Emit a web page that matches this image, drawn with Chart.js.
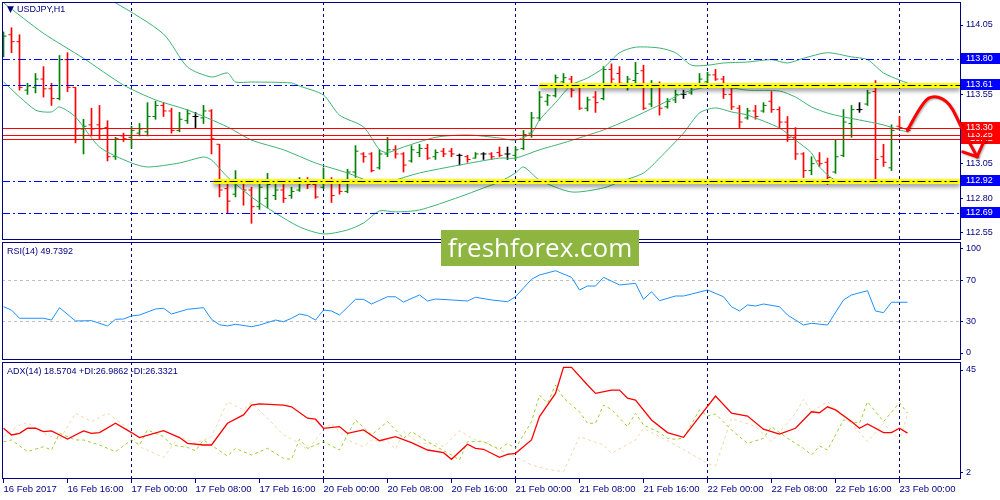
<!DOCTYPE html>
<html>
<head>
<meta charset="utf-8">
<title>USDJPY,H1</title>
<script src="https://cdn.jsdelivr.net/npm/chart.js@4.4.1/dist/chart.umd.min.js"></script>
<style>
  html, body { margin: 0; padding: 0; background: #fff; }
  body { width: 1000px; height: 500px; position: relative; overflow: hidden; font-family: "Liberation Sans", Arial, sans-serif; }
  .pane { position: absolute; left: 0; width: 1000px; }
  .title { position: absolute; left: 7px; font-size: 9px; line-height: 11px; color: #000080; white-space: nowrap; }
  .title .tri { font-family: "DejaVu Sans"; font-size: 9px; margin-right: 3px; }
  #wm { position: absolute; left: 441px; top: 230px; width: 198px; height: 36px; background: #8db540;
        color: #fff; font: 26px "Open Sans", sans-serif; text-align: center; line-height: 35px; }
</style>
</head>
<body>
<div class="pane" style="top:0;height:241px"><canvas id="priceChart"></canvas></div>
<div class="pane" style="top:241px;height:120px"><canvas id="rsiChart"></canvas></div>
<div class="pane" style="top:361px;height:139px"><canvas id="adxChart"></canvas></div>
<div class="title" style="top:4px"><span class="tri">▼</span>USDJPY,H1</div>
<div class="title" style="top:246px">RSI(14) 49.7392</div>
<div class="title" style="top:366px">ADX(14) 18.5704 +DI:26.9862 -DI:26.3321</div>
<div id="wm">freshforex.com</div>

<script>
// x axis: one entry every 8 hourly bars, starting at bar 0 (16 Feb 08:00)
const xLabels = ["16 Feb 2017", "16 Feb 16:00", "17 Feb 00:00", "17 Feb 08:00", "17 Feb 16:00",
  "20 Feb 00:00", "20 Feb 08:00", "20 Feb 16:00", "21 Feb 00:00", "21 Feb 08:00", "21 Feb 16:00",
  "22 Feb 00:00", "22 Feb 08:00", "22 Feb 16:00", "23 Feb 00:00"];
const labelStep = 8;
const dayStarts = [16, 40, 64, 88, 112];

// USDJPY H1 bars
const open = [113.84,113.98,113.93,113.58,113.60,113.66,113.59,113.52,113.80,113.60,
  113.30,113.33,113.33,113.31,113.10,113.25,113.24,113.27,113.28,113.39,
  113.47,113.43,113.29,113.36,113.39,113.38,113.43,113.19,112.87,112.83,
  112.91,112.86,112.74,112.80,112.82,112.86,112.82,112.86,112.93,112.90,
  112.88,112.92,112.91,112.85,112.99,113.12,113.12,113.02,113.12,113.15,
  113.12,113.07,113.13,113.16,113.10,113.14,113.14,113.11,113.10,113.09,
  113.12,113.12,113.13,113.12,113.11,113.16,113.27,113.38,113.50,113.54,
  113.64,113.66,113.60,113.45,113.53,113.52,113.73,113.70,113.61,113.65,
  113.72,113.48,113.60,113.46,113.51,113.55,113.56,113.61,113.64,113.69,
  113.66,113.55,113.45,113.38,113.43,113.43,113.50,113.44,113.35,113.24,
  113.12,113.00,113.07,113.06,112.99,113.11,113.34,113.44,113.48,113.57,
  113.10,113.02,113.32,113.30];
const high = [114.00,114.03,113.98,113.63,113.70,113.75,113.63,113.83,113.85,113.60,
  113.37,113.45,113.47,113.36,113.24,113.27,113.32,113.34,113.49,113.50,
  113.49,113.45,113.42,113.44,113.42,113.47,113.44,113.19,112.92,113.00,
  112.93,112.88,112.93,112.98,112.93,112.90,112.88,112.95,112.95,112.91,
  113.02,112.95,112.93,113.01,113.18,113.13,113.13,113.15,113.24,113.18,
  113.13,113.18,113.19,113.19,113.15,113.16,113.16,113.12,113.11,113.13,
  113.13,113.13,113.17,113.17,113.17,113.29,113.42,113.57,113.55,113.69,
  113.70,113.68,113.62,113.53,113.57,113.75,113.77,113.75,113.68,113.78,
  113.76,113.65,113.64,113.52,113.58,113.58,113.62,113.70,113.71,113.73,
  113.68,113.60,113.47,113.45,113.47,113.49,113.57,113.46,113.39,113.31,
  113.13,113.10,113.13,113.09,113.22,113.44,113.47,113.49,113.58,113.65,
  113.19,113.33,113.39,113.31];
const low = [113.82,113.85,113.58,113.55,113.56,113.53,113.47,113.51,113.57,113.20,
  113.12,113.25,113.23,113.07,113.08,113.21,113.16,113.25,113.25,113.37,
  113.39,113.27,113.28,113.34,113.31,113.34,113.12,112.81,112.69,112.81,
  112.75,112.62,112.72,112.73,112.79,112.77,112.80,112.85,112.87,112.80,
  112.87,112.77,112.83,112.84,112.95,113.06,112.99,113.01,113.10,113.09,
  112.99,113.06,113.10,113.08,113.08,113.10,113.10,113.04,113.06,113.09,
  113.08,113.08,113.10,113.08,113.08,113.15,113.24,113.36,113.47,113.53,
  113.62,113.53,113.44,113.43,113.42,113.51,113.62,113.62,113.58,113.63,
  113.44,113.46,113.40,113.45,113.49,113.52,113.55,113.60,113.62,113.65,
  113.52,113.44,113.31,113.37,113.37,113.42,113.42,113.31,113.21,113.08,
  112.95,112.97,113.03,112.90,112.98,113.10,113.24,113.42,113.47,112.93,
  113.03,113.00,113.31,113.28];
const close = [113.97,113.93,113.60,113.61,113.66,113.59,113.52,113.80,113.60,113.30,
  113.32,113.30,113.30,113.10,113.23,113.23,113.29,113.30,113.39,113.47,
  113.43,113.29,113.37,113.41,113.39,113.43,113.23,112.86,112.78,112.92,
  112.86,112.74,112.88,112.90,112.86,112.80,112.85,112.93,112.90,112.81,
  112.92,112.82,112.85,112.99,113.14,113.10,113.00,113.12,113.15,113.12,
  113.04,113.15,113.16,113.09,113.13,113.12,113.12,113.11,113.08,113.12,
  113.12,113.10,113.11,113.12,113.15,113.26,113.38,113.53,113.54,113.67,
  113.67,113.58,113.45,113.51,113.49,113.73,113.66,113.63,113.66,113.70,
  113.45,113.60,113.45,113.50,113.55,113.55,113.60,113.66,113.69,113.66,
  113.55,113.46,113.35,113.43,113.39,113.47,113.44,113.35,113.24,113.12,
  113.00,113.05,113.05,112.95,113.10,113.35,113.44,113.44,113.56,113.08,
  113.06,113.29,113.31,113.29];

// Bollinger bands, read at their bends (bar index -> price)
const bbUpperIdx = [0,7,14,20,23,26,28,29,31,36,37,40,42,45,47,48,50,54,58,62,64,66,67,69,71,73,75,77,79,82,84,86,88,90,93,96,98,100,103,106,108,110,112,113];
const bbUpper = [114.60,114.42,114.21,113.985,113.747,113.675,113.704,113.639,113.639,113.632,113.61,113.545,113.40,113.315,113.15,113.13,113.17,113.24,113.257,113.235,113.22,113.27,113.365,113.49,113.617,113.668,113.74,113.85,113.89,113.884,113.85,113.76,113.76,113.776,113.783,113.80,113.776,113.81,113.85,113.82,113.80,113.704,113.653,113.632];
const bbMiddleIdx = [0,5,10,15,19,23,28,31,35,39,43,46,48,52,57,62,64,67,70,75,78,82,85,88,91,93,97,99,101,103,105,107,110,112,113];
const bbMiddle = [114.21,113.99,113.81,113.617,113.51,113.437,113.315,113.22,113.15,113.055,112.983,112.918,112.918,112.983,113.04,113.09,113.09,113.15,113.20,113.293,113.365,113.473,113.56,113.603,113.596,113.58,113.574,113.53,113.459,113.415,113.387,113.365,113.329,113.293,113.279];
const bbLowerIdx = [0,4,6,7,9,12,16,18,22,25,26,28,31,33,37,40,43,45,47,49,52,57,60,62,64,65,67,71,75,77,80,82,85,87,89,91,93,97,99,101,102,104,107,109,112,113];
const bbLower = [113.639,113.437,113.423,113.459,113.387,113.17,113.055,113.026,113.055,113.098,113.077,112.954,112.81,112.73,112.594,112.543,112.572,112.622,112.709,112.702,112.716,112.81,112.875,112.918,112.983,113.026,112.932,112.846,112.875,112.918,112.983,113.09,113.27,113.416,113.452,113.423,113.40,113.307,113.22,113.127,113.026,112.932,112.932,112.918,112.918,112.918];

// drawn levels
const blueLevels = [113.80, 113.61, 112.92, 112.69];
const yellowLevels = [113.61, 112.92];
const yellowFrom = [67, 26.25];
const redLevels = [113.22, 113.25, 113.30];
const priceTicks = [112.55, 112.80, 113.05, 113.30, 113.55, 113.80, 114.05];

// forecast arrow (bar index, price)
const arrowIdx = [113, 114.9, 116.4, 118.3, 119.8, 121.7];
const arrowPrice = [113.29, 113.50, 113.545, 113.49, 113.30, 113.10];
const arrowHeadIdx = [119.9, 122.7];
const arrowHeadPrice = [113.135, 113.23];

// RSI(14)
const rsiIdx = [0,1,2,5,6,7,9,11,13,14,15,16,17,19,20,21,23,25,26,27,28,29,31,32,34,35,36,37,38,39,40,41,42,44,45,46,48,49,50,52,53,54,56,58,59,61,63,64,66,67,69,71,72,73,74,75,77,79,80,81,82,84,85,86,88,90,91,92,93,94,95,97,98,100,101,103,105,106,108,109,110,111,112,113];
const rsiVal = [44.5,41.3,33.4,33.4,31.7,43.6,30.8,31.1,26.0,32.4,32.7,35.6,36.5,42.3,43.0,37.5,42.0,43.6,32.4,27.2,26.0,27.6,25.3,26.9,31.7,30.1,33.4,37.5,36.0,31.7,41.3,40.4,36.5,51.6,51.6,47.1,54.1,54.1,49.0,55.8,50.0,51.9,51.0,50.0,53.6,51.0,49.3,54.1,70.9,75.0,79.1,72.8,60.6,64.4,64.4,72.8,65.4,67.0,51.6,58.9,50.3,54.8,54.8,56.7,60.6,54.1,44.5,40.4,46.2,45.2,47.1,44.5,36.5,26.9,28.6,26.9,51.0,55.8,59.9,40.4,38.8,48.8,48.8,48.8];
const rsiTicks = [0, 30, 70, 100];
const rsiLevels = [30, 70];

// ADX(14) with +DI / -DI
const adxIdx = [0,1,2,3,4,5,6,8,10,11,12,14,16,17,20,22,23,25,26,28,30,31,32,35,36,38,39,40,42,43,45,47,49,51,53,55,56,58,59,60,62,63,64,66,67,69,70,71,73,74,76,77,78,79,81,83,85,87,89,91,93,95,97,99,101,102,103,104,106,107,108,110,111,112,113];
const adxVal = [20.6,17.8,18.5,20.6,20.6,19.2,19.5,16.1,19.5,18.5,18.8,22.7,18.8,16.7,19.6,16.7,14.3,13.6,13.6,22.7,26.2,30.3,30.8,30.3,29.6,24.8,24.4,20.6,21.3,18.5,19.9,15.4,17.1,14.6,11.5,10.4,7.6,13.9,12.2,11.8,8.4,9.7,10.1,15.7,25.5,35.2,46.1,46.1,38.7,35.2,36.6,36.6,33.2,32.4,24.1,18.8,16.8,25.5,34.1,26.9,25.7,20.2,18.2,20.6,27.5,27.1,29.6,28.3,23.4,20.6,22.4,18.8,18.8,20.6,18.57];
const plusDiIdx = [0,1,3,5,6,7,9,10,12,14,16,17,18,20,21,23,24,25,28,29,31,33,35,36,37,38,40,42,44,46,48,50,51,53,56,57,58,60,62,63,64,66,67,68,69,70,72,73,74,75,76,78,79,80,82,83,84,85,87,88,89,91,93,95,96,98,100,101,102,103,105,107,108,110,112,113];
const plusDi = [15.0,15.7,10.8,12.9,11.5,18.5,15.7,15.7,13.6,10.8,15.7,13.6,19.9,17.1,13.6,12.6,11.2,15.7,9.0,12.2,9.4,12.2,8.0,7.6,16.0,12.2,15.0,11.5,24.1,17.8,23.4,16.4,19.2,15.0,9.4,7.3,15.0,15.0,11.8,14.3,12.2,23.4,34.5,31.1,38.7,33.2,27.5,22.7,22.7,30.3,28.5,21.3,26.9,22.0,18.8,16.4,16.0,16.4,28.3,25.7,26.6,19.9,14.3,16.4,21.3,16.4,12.2,9.4,13.2,11.5,24.1,22.7,31.7,23.4,31.3,26.99];
const minusDiIdx = [0,2,3,5,7,9,11,13,15,16,17,20,22,24,26,28,30,31,33,35,37,38,40,41,43,45,46,48,49,50,52,54,55,57,59,60,62,64,66,68,70,72,75,76,79,80,82,84,88,89,91,94,96,99,100,101,103,106,108,110,112,113];
const minusDi = [17.1,22.0,22.9,18.5,15.7,26.9,23.4,26.9,22.0,17.8,12.9,8.4,17.1,14.3,17.1,31.7,28.3,31.3,24.8,17.8,14.3,11.5,19.9,22.7,15.7,12.9,15.7,15.0,11.8,19.2,14.3,14.3,12.9,19.6,15.7,15.0,11.5,8.7,5.2,3.4,2.4,17.1,13.6,10.1,15.7,20.6,17.1,13.6,5.9,4.8,24.8,21.3,15.0,26.9,32.7,27.5,31.7,22.7,15.0,22.7,15.7,26.33];
const adxTicks = [2, 45];

const NAVY = '#000080';
const FONT = '"Liberation Sans", Arial, sans-serif';
const X_MIN = -0.1875, X_MAX = 119.5625;   // 8 px per bar
const TICK_OFFSET = 0.19;                  // open/close tick offset, in bars

const pts = (xs, ys) => xs.map((x, k) => ({ x: x, y: ys[k] }));
const barColors = open.map((o, i) => close[i] > o ? '#008000' : (close[i] < o ? '#ff0000' : '#000000'));

function xAxis(show) {
  const ax = { type: 'linear', min: X_MIN, max: X_MAX, offset: false, display: show,
    grid: { display: false }, border: { display: false } };
  if (show) {
    ax.afterFit = s => { s.height = 21; s.paddingLeft = 0; s.paddingRight = 0; };
    ax.afterBuildTicks = s => { s.ticks = xLabels.map((_, k) => ({ value: k * labelStep })); };
    ax.grid = { display: true, drawOnChartArea: false, drawTicks: true, tickLength: 4, tickColor: NAVY };
    ax.ticks = { autoSkip: false, maxRotation: 0, align: 'start', padding: 1, color: NAVY,
      font: { family: FONT, size: 9.5 }, callback: v => xLabels[Math.round(v / labelStep)] };
  }
  return ax;
}

function yAxis(min, max, ticks, digits) {
  return { type: 'linear', position: 'right', min: min, max: max,
    afterFit: s => { s.width = 40; s.paddingTop = 0; s.paddingBottom = 0; },
    afterBuildTicks: s => { s.ticks = ticks.map(v => ({ value: v })); },
    border: { display: false },
    grid: { drawOnChartArea: false, drawTicks: true, tickLength: 3, tickColor: NAVY },
    ticks: { color: NAVY, padding: 3, font: { family: FONT, size: 9 }, callback: v => v.toFixed(digits) } };
}

// frame + day separators for every pane
const panePlugin = {
  id: 'pane',
  beforeDatasetsDraw(chart, args, opts) {
    const { ctx, chartArea: a, scales: { x, y } } = chart;
    ctx.save();
    ctx.lineWidth = 1;
    if (opts.levels) {
      ctx.strokeStyle = '#c0c0c0';
      ctx.setLineDash([3, 3]);
      opts.levels.forEach(v => {
        const py = Math.floor(y.getPixelForValue(v)) + 0.5;
        ctx.beginPath(); ctx.moveTo(a.left, py); ctx.lineTo(a.right, py); ctx.stroke();
      });
    }
    ctx.strokeStyle = NAVY;
    ctx.setLineDash([3, 3]);
    dayStarts.forEach(d => {
      const px = Math.floor(x.getPixelForValue(d)) + 0.5;
      ctx.beginPath(); ctx.moveTo(px, a.top); ctx.lineTo(px, a.bottom); ctx.stroke();
    });
    ctx.restore();
  },
  afterDraw(chart) {
    const { ctx, chartArea: a } = chart;
    ctx.save();
    ctx.strokeStyle = NAVY;
    ctx.lineWidth = 1;
    ctx.strokeRect(a.left + 0.5, a.top + 0.5, a.right - a.left, a.bottom - a.top - 1);
    ctx.restore();
  }
};

// horizontal levels, price boxes and the forecast arrow
const levelsPlugin = {
  id: 'levels',
  afterDatasetsDraw(chart) {
    const { ctx, chartArea: a, scales: { x, y } } = chart;
    const py = v => Math.round(y.getPixelForValue(v)) - 0.5;
    const hline = (v, x0) => { ctx.beginPath(); ctx.moveTo(x0, py(v)); ctx.lineTo(a.right, py(v)); ctx.stroke(); };
    ctx.save();
    ctx.lineWidth = 1;
    ctx.strokeStyle = '#0000ff';
    ctx.setLineDash([8, 3, 2, 3]);
    blueLevels.forEach(v => hline(v, a.left));
    yellowLevels.forEach((v, k) => {
      const x0 = x.getPixelForValue(yellowFrom[k]);
      ctx.save();
      ctx.setLineDash([]);
      ctx.shadowColor = 'rgba(0,0,0,0.4)';
      ctx.shadowBlur = 4;
      ctx.shadowOffsetY = 3;
      ctx.strokeStyle = '#ffff00';
      ctx.lineWidth = 5;
      hline(v, x0);
      ctx.restore();
      ctx.strokeStyle = '#000000';
      ctx.setLineDash([8, 3, 2, 3]);
      hline(v, x0);
    });
    ctx.setLineDash([]);
    ctx.strokeStyle = '#ff0000';
    redLevels.forEach(v => hline(v, a.left));
    ctx.restore();
  },
  afterDraw(chart) {
    const { ctx, chartArea: a, scales: { x, y } } = chart;
    ctx.save();
    ctx.font = '9px ' + FONT;
    ctx.textBaseline = 'middle';
    const box = (v, color) => {
      const yy = Math.round(y.getPixelForValue(v)) - 1;
      ctx.fillStyle = color;
      ctx.fillRect(a.right + 1, yy - 6, 40, 11);
      ctx.fillStyle = '#ffffff';
      ctx.fillText(v.toFixed(2), a.right + 6, yy);
    };
    blueLevels.forEach(v => box(v, '#0000ff'));
    redLevels.forEach(v => box(v, '#ff0000'));

    const P = k => [x.getPixelForValue(arrowIdx[k]), y.getPixelForValue(arrowPrice[k])];
    ctx.strokeStyle = '#ff0000';
    ctx.lineWidth = 3;
    ctx.lineCap = 'round';
    ctx.lineJoin = 'round';
    ctx.shadowColor = 'rgba(0,0,0,0.35)';
    ctx.shadowBlur = 2;
    ctx.shadowOffsetX = 1;
    ctx.shadowOffsetY = 1;
    ctx.beginPath();
    let p = P(0);
    ctx.moveTo(p[0], p[1]);
    for (let k = 1; k < arrowIdx.length - 1; k++) {
      const c = P(k), n = P(k + 1);
      ctx.quadraticCurveTo(c[0], c[1], (c[0] + n[0]) / 2, (c[1] + n[1]) / 2);
    }
    p = P(arrowIdx.length - 1);
    ctx.lineTo(p[0], p[1]);
    ctx.stroke();
    ctx.beginPath();
    arrowHeadIdx.forEach((hx, k) => {
      ctx.moveTo(x.getPixelForValue(hx), y.getPixelForValue(arrowHeadPrice[k]));
      ctx.lineTo(p[0], p[1]);
    });
    ctx.stroke();
    ctx.restore();
  }
};

const common = {
  responsive: true,
  maintainAspectRatio: false,
  animation: false,
  events: [],
  plugins: { legend: { display: false }, tooltip: { enabled: false } }
};

const bbLine = (xs, ys) => ({ type: 'line', data: pts(xs, ys), borderColor: '#3cb371', borderWidth: 1,
  pointRadius: 0, tension: 0.25, order: 0 });
const tickSet = (vals, shift) => ({ type: 'scatter', order: 1,
  data: vals.map((v, i) => ({ x: i + shift, y: v })),
  pointStyle: 'line', pointRadius: 1.5, pointBorderWidth: 1,
  pointBorderColor: barColors, pointBackgroundColor: barColors });

new Chart(document.getElementById('priceChart'), {
  type: 'bar',
  data: {
    datasets: [
      bbLine(bbUpperIdx, bbUpper),
      bbLine(bbMiddleIdx, bbMiddle),
      bbLine(bbLowerIdx, bbLower),
      { type: 'bar', order: 1, data: open.map((_, i) => ({ x: i, y: [low[i], high[i]] })),
        backgroundColor: barColors, borderWidth: 0, barThickness: 1, grouped: false },
      tickSet(open, -TICK_OFFSET),
      tickSet(close, TICK_OFFSET)
    ]
  },
  options: Object.assign({}, common, {
    layout: { autoPadding: false, padding: { left: 2, top: 2, right: 0, bottom: 1 } },
    scales: { x: xAxis(false), y: yAxis(112.4995, 114.2159, priceTicks, 2) }
  }),
  plugins: [panePlugin, levelsPlugin]
});

new Chart(document.getElementById('rsiChart'), {
  type: 'line',
  data: { datasets: [
    { data: pts(rsiIdx, rsiVal), borderColor: '#1e90ff', borderWidth: 1, pointRadius: 0, tension: 0 }
  ] },
  options: Object.assign({}, common, {
    layout: { autoPadding: false, padding: { left: 2, top: 1, right: 0, bottom: 1 } },
    plugins: Object.assign({}, common.plugins, { pane: { levels: rsiLevels } }),
    scales: { x: xAxis(false), y: yAxis(-6.73, 106.73, rsiTicks, 0) }
  }),
  plugins: [panePlugin]
});

new Chart(document.getElementById('adxChart'), {
  type: 'line',
  data: { datasets: [
    { data: pts(adxIdx, adxVal), borderColor: '#ff0000', borderWidth: 1.3, pointRadius: 0, tension: 0, order: 0 },
    { data: pts(plusDiIdx, plusDi), borderColor: '#9acd32', borderWidth: 1, borderDash: [3, 3], pointRadius: 0, tension: 0, order: 1 },
    { data: pts(minusDiIdx, minusDi), borderColor: '#f5d6a8', borderWidth: 1, borderDash: [3, 3], pointRadius: 0, tension: 0, order: 2 }
  ] },
  options: Object.assign({}, common, {
    layout: { autoPadding: false, padding: { left: 2, top: 1, right: 0, bottom: 0 } },
    scales: { x: xAxis(true), y: yAxis(-0.64, 48.35, adxTicks, 0) }
  }),
  plugins: [panePlugin]
});
</script>
</body>
</html>
